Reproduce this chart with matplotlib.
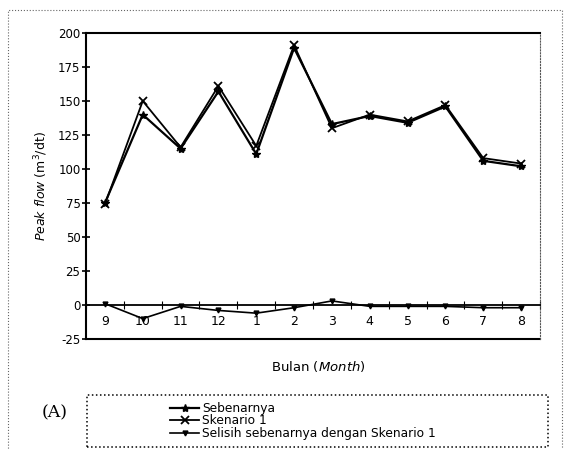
import matplotlib
matplotlib.use("Agg")
import matplotlib.pyplot as plt
from matplotlib.patches import Rectangle
import numpy as np

months = ["9", "10", "11", "12", "1", "2", "3", "4", "5", "6", "7", "8"]
sebenarnya = [75, 140, 115, 157, 111, 189, 133, 139, 134, 146, 106, 102]
skenario1 = [74, 150, 116, 161, 117, 191, 130, 140, 135, 147, 108, 104]
selisih = [1, -10, -1, -4, -6, -2, 3, -1, -1, -1, -2, -2]
yticks = [-25, 0, 25, 50, 75, 100, 125, 150, 175, 200]

plt.rcParams['font.family'] = ['DejaVu Sans']
plt.rcParams['mathtext.fontset'] = 'dejavusans'

W, H = 565, 449
fig = plt.figure(figsize=(W / 100, H / 100), dpi=100)
ax = fig.add_axes([86 / W, 1 - 339 / H, (540 - 86) / W, (339 - 33) / H])
x = np.arange(len(months))

ax.plot(x, sebenarnya, color='black', lw=1.6, marker='*', ms=6, label='Sebenarnya')
ax.plot(x, skenario1, color='black', lw=1.3, marker='x', ms=6, mew=1.3, label='Skenario 1')
ax.plot(x, selisih, color='black', lw=1.2, marker='v', ms=3.5, label='Selisih sebenarnya dengan Skenario 1')

ax.set_xlim(-0.5, len(months) - 0.5)
ax.set_ylim(-25, 200)
ax.set_yticks(yticks)
ax.set_yticklabels([str(v) for v in yticks], fontsize=8.5)
ax.tick_params(axis='y', direction='inout', length=6, width=1.2, pad=1)

ax.spines['bottom'].set_position(('data', 0))
ax.spines['bottom'].set_linewidth(1.3)
ax.set_xticks(x)
ax.set_xticklabels(months, fontsize=9)
ax.set_xticks(np.arange(-0.5, len(months)), minor=True)
ax.tick_params(axis='x', which='major', length=0, pad=7)
ax.tick_params(axis='x', which='minor', direction='inout', length=6, width=0.8)
ax.axhline(-25, color='black', lw=1.5, clip_on=False)

ax.spines['left'].set_linewidth(1.5)
ax.spines['top'].set_linewidth(1.5)
ax.spines['right'].set_linewidth(0.8)
ax.spines['right'].set_linestyle(':')
ax.spines['right'].set_color('#555555')

ax.set_ylabel(r"$\it{Peak\ flow}$ (m$^3$/dt)", fontsize=9, labelpad=6)
fig.text(318 / W, 1 - 366 / H, r"Bulan ($\it{Month}$)", ha='center', va='center', fontsize=9.5)

handles, labels = ax.get_legend_handles_labels()
leg = fig.legend(handles, labels, loc='upper left',
                 bbox_to_anchor=(164 / W, 1 - 396 / H), bbox_transform=fig.transFigure,
                 fontsize=8.8, frameon=False, borderpad=0.0,
                 labelspacing=-0.05, handlelength=2.4, handletextpad=0.25)
fig.patches.append(Rectangle((87 / W, 1 - 447 / H), (548 - 87) / W, (447 - 395) / H,
                             transform=fig.transFigure, fill=False, ls=':', lw=1.1, ec='black'))

fig.text(55 / W, 1 - 413 / H, "(A)", fontsize=12.5, family='DejaVu Serif', ha='center', va='center')

fig.patches.append(Rectangle((8 / W, -0.01), (562 - 8) / W, 1 - 10 / H + 0.01, transform=fig.transFigure,
                             fill=False, ls=':', lw=0.8, ec='#666666'))

fig.savefig("out.png", dpi=100)
